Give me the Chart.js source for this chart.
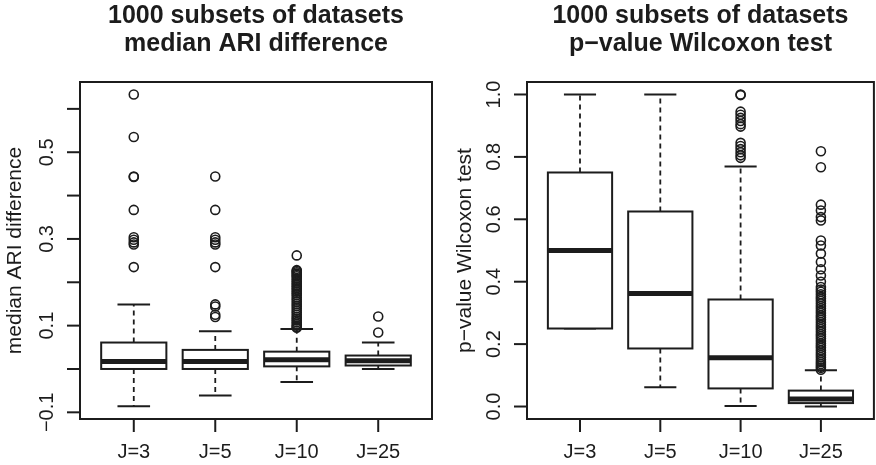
<!DOCTYPE html>
<html>
<head>
<meta charset="utf-8">
<script src="https://cdn.jsdelivr.net/npm/chart.js@4.4.1/dist/chart.umd.min.js"></script>
<style>
    html, body { margin: 0; padding: 0; background: #fff; overflow: hidden; }
    #wrap { position: relative; width: 876px; height: 465px; overflow: hidden; }
    canvas { position: absolute; top: 0; }
    #ari-chart { left: 0; }
    #pval-chart { left: 440px; }
</style>
</head>
<body>
<div id="wrap">
    <canvas id="ari-chart" width="440" height="465"></canvas>
    <canvas id="pval-chart" width="440" height="465"></canvas>
</div>
<script>
var groups = ['J=3', 'J=5', 'J=10', 'J=25'];

// Left panel: median ARI difference
var ariLow  = [-0.086, -0.061, -0.030, 0.000];
var ariQ1   = [0.000, 0.000, 0.006, 0.008];
var ariMed  = [0.017, 0.017, 0.021, 0.019];
var ariQ3   = [0.061, 0.044, 0.040, 0.031];
var ariHigh = [0.149, 0.087, 0.092, 0.061];
var ariOutliers = [
    [0.633, 0.535, 0.444, 0.443, 0.367, 0.304, 0.298, 0.292, 0.287, 0.235],
    [0.444, 0.367, 0.304, 0.298, 0.292, 0.287, 0.235, 0.149, 0.144, 0.125, 0.120],
    [0.262, 0.228, 0.226, 0.223, 0.220, 0.217, 0.214, 0.210, 0.206, 0.202, 0.198,
     0.194, 0.190, 0.186, 0.182, 0.178, 0.174, 0.170, 0.165, 0.160, 0.155, 0.150,
     0.145, 0.140, 0.135, 0.130, 0.125, 0.120, 0.116, 0.112, 0.108, 0.104, 0.100,
     0.097, 0.095],
    [0.121, 0.084]
];
var ariTicks = [-0.1, 0, 0.1, 0.2, 0.3, 0.4, 0.5, 0.6];
var ariTickLabels = ['\u22120.1', '', '0.1', '', '0.3', '', '0.5', ''];

// Right panel: p-value Wilcoxon test
var pvalLow  = [0.250, 0.062, 0.002, 0.000];
var pvalQ1   = [0.250, 0.186, 0.058, 0.011];
var pvalMed  = [0.500, 0.362, 0.156, 0.024];
var pvalQ3   = [0.750, 0.625, 0.343, 0.051];
var pvalHigh = [1.000, 1.000, 0.769, 0.116];
var pvalOutliers = [
    [],
    [],
    [1.000, 0.998, 0.945, 0.935, 0.925, 0.915, 0.905, 0.897,
     0.845, 0.835, 0.825, 0.815, 0.805, 0.797],
    [0.818, 0.767, 0.647, 0.628, 0.607, 0.596, 0.532, 0.516, 0.490, 0.463,
     0.440, 0.420, 0.400, 0.383, 0.375, 0.368, 0.360, 0.352, 0.345, 0.338,
     0.330, 0.322, 0.315, 0.307, 0.300, 0.292, 0.285, 0.278, 0.270, 0.262,
     0.255, 0.248, 0.240, 0.232, 0.225, 0.218, 0.210, 0.202, 0.195, 0.188,
     0.180, 0.172, 0.165, 0.158, 0.150, 0.143, 0.136, 0.130, 0.124, 0.118]
];
var pvalTicks = [0, 0.2, 0.4, 0.6, 0.8, 1.0];
var pvalTickLabels = ['0.0', '0.2', '0.4', '0.6', '0.8', '1.0'];

var INK = '#1c1c1c';
var FONT = '"Liberation Sans", Arial, Helvetica, sans-serif';

/**
 * Turn per-group outlier lists into scatter points
 */
function outlierPoints(lists) {
    var pts = [];
    lists.forEach(function(list, i) {
        list.forEach(function(v) {
            pts.push({ x: i + 1, y: v });
        });
    });
    return pts;
}

/**
 * Plugin that draws R-style boxes, whiskers, frame, axes and titles
 */
function rBoxPlugin(cfg) {
    return {
        id: 'rbox',
        beforeDatasetsDraw: function(chart) {
            var ctx = chart.ctx;
            var xs = chart.scales.x;
            var ys = chart.scales.y;
            ctx.save();
            ctx.strokeStyle = INK;
            ctx.lineCap = 'butt';
            cfg.med.forEach(function(m, i) {
                var c = i + 1;
                var bl = xs.getPixelForValue(c - 0.4);
                var br = xs.getPixelForValue(c + 0.4);
                var sl = xs.getPixelForValue(c - 0.2);
                var sr = xs.getPixelForValue(c + 0.2);
                var cx = xs.getPixelForValue(c);
                var yLow = ys.getPixelForValue(cfg.low[i]);
                var yQ1 = ys.getPixelForValue(cfg.q1[i]);
                var yMed = ys.getPixelForValue(m);
                var yQ3 = ys.getPixelForValue(cfg.q3[i]);
                var yHigh = ys.getPixelForValue(cfg.high[i]);

                // whiskers (dashed)
                ctx.lineWidth = 1.8;
                ctx.setLineDash([5, 4]);
                ctx.beginPath();
                ctx.moveTo(cx, yQ3); ctx.lineTo(cx, yHigh);
                ctx.moveTo(cx, yQ1); ctx.lineTo(cx, yLow);
                ctx.stroke();
                ctx.setLineDash([]);

                // staples
                ctx.lineWidth = 2;
                ctx.beginPath();
                ctx.moveTo(sl, yHigh); ctx.lineTo(sr, yHigh);
                ctx.moveTo(sl, yLow); ctx.lineTo(sr, yLow);
                ctx.stroke();

                // box
                ctx.fillStyle = '#fff';
                ctx.fillRect(bl, yQ3, br - bl, yQ1 - yQ3);
                ctx.lineWidth = 2;
                ctx.strokeRect(bl, yQ3, br - bl, yQ1 - yQ3);

                // median
                ctx.lineWidth = 5;
                ctx.beginPath();
                ctx.moveTo(bl, yMed); ctx.lineTo(br, yMed);
                ctx.stroke();
            });
            ctx.restore();
        },
        afterDraw: function(chart) {
            var ctx = chart.ctx;
            var a = chart.chartArea;
            var xs = chart.scales.x;
            var ys = chart.scales.y;
            ctx.save();
            ctx.strokeStyle = INK;
            ctx.fillStyle = INK;
            ctx.lineWidth = 2;

            // frame
            ctx.strokeRect(a.left, a.top, a.right - a.left, a.bottom - a.top);

            // x axis ticks + labels
            ctx.font = '20px ' + FONT;
            ctx.textAlign = 'center';
            ctx.textBaseline = 'middle';
            groups.forEach(function(g, i) {
                var px = xs.getPixelForValue(i + 1);
                ctx.beginPath();
                ctx.moveTo(px, a.bottom); ctx.lineTo(px, a.bottom + 13);
                ctx.stroke();
                ctx.fillText(g, px, a.bottom + 33);
            });

            // y axis ticks + rotated labels
            cfg.ticks.forEach(function(t, i) {
                var py = ys.getPixelForValue(t);
                ctx.beginPath();
                ctx.moveTo(a.left, py); ctx.lineTo(a.left - 13, py);
                ctx.stroke();
                if (cfg.tickLabels[i]) {
                    ctx.save();
                    ctx.translate(a.left - 33, py);
                    ctx.rotate(-Math.PI / 2);
                    ctx.fillText(cfg.tickLabels[i], 0, 0);
                    ctx.restore();
                }
            });

            // y axis title
            ctx.save();
            ctx.font = '21px ' + FONT;
            ctx.translate(a.left - cfg.titleOffset, (a.top + a.bottom) / 2);
            ctx.rotate(-Math.PI / 2);
            ctx.fillText(cfg.yTitle, 0, 0);
            ctx.restore();

            // main title
            var mid = (a.left + a.right) / 2;
            ctx.font = 'bold 25px ' + FONT;
            ctx.fillText(cfg.title[0], mid, 16);
            ctx.fillText(cfg.title[1], mid, 44);
            ctx.restore();
        }
    };
}

/**
 * Build one boxplot panel
 */
function makePanel(canvasId, cfg) {
    return new Chart(document.getElementById(canvasId), {
        type: 'scatter',
        data: {
            datasets: [{
                label: 'outliers',
                data: outlierPoints(cfg.outliers),
                pointStyle: 'circle',
                pointRadius: 4.5,
                pointBorderWidth: 1.6,
                borderColor: INK,
                backgroundColor: 'rgba(0,0,0,0)'
            }]
        },
        options: {
            responsive: false,
            animation: false,
            devicePixelRatio: 1,
            layout: { padding: cfg.padding },
            plugins: {
                legend: { display: false },
                tooltip: { enabled: false }
            },
            scales: {
                x: { type: 'linear', min: 0.34, max: 4.66, display: false },
                y: { type: 'linear', min: cfg.yMin, max: cfg.yMax, display: false }
            }
        },
        plugins: [rBoxPlugin(cfg)]
    });
}

makePanel('ari-chart', {
    low: ariLow, q1: ariQ1, med: ariMed, q3: ariQ3, high: ariHigh,
    outliers: ariOutliers,
    ticks: ariTicks, tickLabels: ariTickLabels,
    yMin: -0.1154, yMax: 0.662,
    padding: { left: 80, right: 8, top: 82, bottom: 46 },
    titleOffset: 65,
    yTitle: 'median ARI difference',
    title: ['1000 subsets of datasets', 'median ARI difference']
});

makePanel('pval-chart', {
    low: pvalLow, q1: pvalQ1, med: pvalMed, q3: pvalQ3, high: pvalHigh,
    outliers: pvalOutliers,
    ticks: pvalTicks, tickLabels: pvalTickLabels,
    yMin: -0.04, yMax: 1.04,
    padding: { left: 87, right: 2, top: 82, bottom: 46 },
    titleOffset: 62,
    yTitle: 'p\u2212value Wilcoxon test',
    title: ['1000 subsets of datasets', 'p\u2212value Wilcoxon test']
});
</script>
</body>
</html>
